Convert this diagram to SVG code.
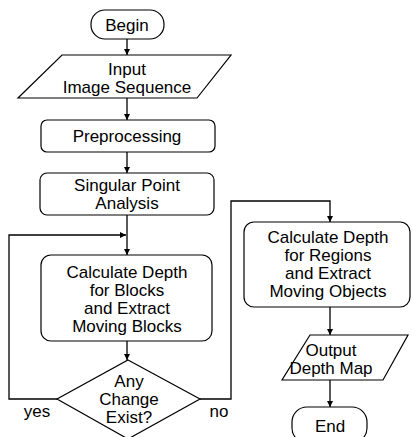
<svg xmlns="http://www.w3.org/2000/svg" width="413" height="437" viewBox="0 0 413 437">
  <style>
    .shape { fill: #ffffff; stroke: #000000; stroke-width: 1.2; }
    .edge { fill: none; stroke: #000000; stroke-width: 1.3; }
    text { font-family: "Liberation Sans", Arial, sans-serif; font-size: 17px; fill: #000000; text-anchor: middle; }
  </style>
  <defs>
    <marker id="arrow" viewBox="0 0 10 10" refX="10" refY="5" markerWidth="6" markerHeight="6" markerUnits="userSpaceOnUse" orient="auto">
      <path d="M0,0 L10,5 L0,10 Z" fill="#000000"/>
    </marker>
  </defs>
  <rect width="413" height="437" fill="#ffffff"/>

  <g id="connectors">
    <line class="edge" x1="127" y1="39" x2="127" y2="55" marker-end="url(#arrow)"/>
    <line class="edge" x1="127" y1="98" x2="127" y2="120" marker-end="url(#arrow)"/>
    <line class="edge" x1="127" y1="152" x2="127" y2="173" marker-end="url(#arrow)"/>
    <line class="edge" x1="127" y1="215" x2="127" y2="255" marker-end="url(#arrow)"/>
    <line class="edge" x1="127" y1="341" x2="127" y2="360" marker-end="url(#arrow)"/>
    <polyline class="edge" points="57,399 9,399 9,235 126,235" marker-end="url(#arrow)"/>
    <polyline class="edge" points="200,399 231,399 231,201 330,201 330,222" marker-end="url(#arrow)"/>
    <line class="edge" x1="330" y1="307" x2="330" y2="335" marker-end="url(#arrow)"/>
    <line class="edge" x1="330" y1="380" x2="330" y2="407" marker-end="url(#arrow)"/>
    <text x="37" y="417">yes</text>
    <text x="219" y="417">no</text>
  </g>

  <g id="begin">
    <rect class="shape" x="91" y="10" width="73" height="29" rx="14" ry="14"/>
    <text x="127" y="31">Begin</text>
  </g>

  <g id="input">
    <polygon class="shape" points="62,55 231,55 197,98 18,98"/>
    <text x="127" y="75">Input</text>
    <text x="127" y="93">Image Sequence</text>
  </g>

  <g id="preprocessing">
    <rect class="shape" x="41" y="120" width="174" height="32" rx="6" ry="6"/>
    <text x="127" y="142">Preprocessing</text>
  </g>

  <g id="singular">
    <rect class="shape" x="40" y="173" width="174" height="42" rx="7" ry="7"/>
    <text x="127" y="191">Singular Point</text>
    <text x="127" y="209">Analysis</text>
  </g>

  <g id="calc-blocks">
    <rect class="shape" x="41" y="255" width="171" height="86" rx="10" ry="10"/>
    <text x="127" y="278">Calculate Depth</text>
    <text x="127" y="296">for Blocks</text>
    <text x="127" y="314">and Extract</text>
    <text x="127" y="332">Moving Blocks</text>
  </g>

  <g id="decision">
    <polygon class="shape" points="128,360 200,399 128,439 57,399"/>
    <text x="129" y="387">Any</text>
    <text x="129" y="405">Change</text>
    <text x="129" y="423">Exist?</text>
  </g>

  <g id="calc-regions">
    <rect class="shape" x="244" y="222" width="166" height="85" rx="10" ry="10"/>
    <text x="328" y="243">Calculate Depth</text>
    <text x="328" y="261">for Regions</text>
    <text x="328" y="279">and Extract</text>
    <text x="328" y="297">Moving Objects</text>
  </g>

  <g id="output">
    <polygon class="shape" points="310,335 408,335 383,380 282,380"/>
    <text x="331" y="356">Output</text>
    <text x="331" y="374">Depth Map</text>
  </g>

  <g id="end">
    <rect class="shape" x="292" y="407" width="75" height="36" rx="15" ry="15"/>
    <text x="330" y="432">End</text>
  </g>
</svg>
